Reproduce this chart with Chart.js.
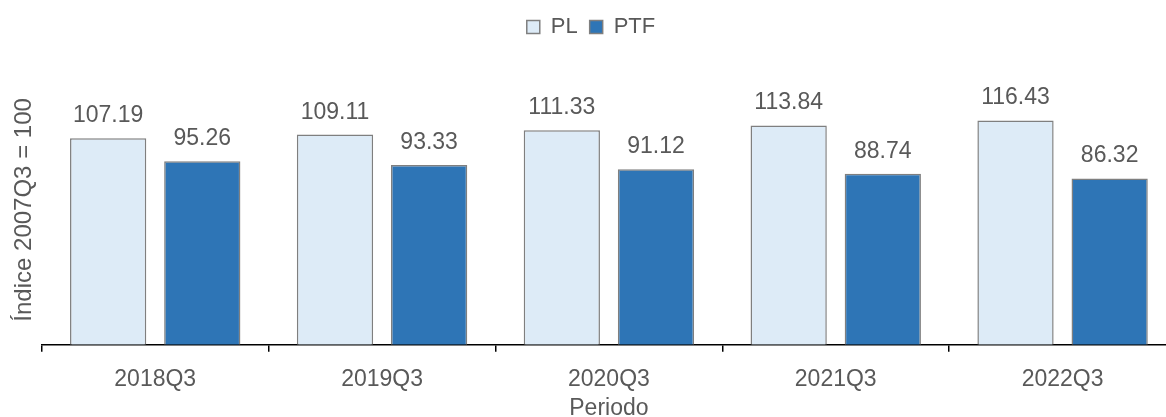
<!DOCTYPE html>
<html>
<head>
<meta charset="utf-8">
<script src="https://cdn.jsdelivr.net/npm/chart.js@4/dist/chart.umd.min.js"></script>
<style>
  html, body { margin: 0; padding: 0; background: #fff; overflow: hidden; }
  #wrap { width: 1180px; height: 422px; }
</style>
</head>
<body>
<div id="wrap"><canvas id="chart"></canvas></div>
<script>
// dati
var periodi = ['2018Q3', '2019Q3', '2020Q3', '2021Q3', '2022Q3'];
var valoriPL = [107.19, 109.11, 111.33, 113.84, 116.43];
var valoriPTF = [95.26, 93.33, 91.12, 88.74, 86.32];

var testo = '#595959';
var fontName = '"Liberation Sans", Arial, sans-serif';

// spazio extra sotto la legenda
var legendGap = {
    id: 'legendGap',
    beforeInit: function (chart) {
        var fit = chart.legend.fit;
        chart.legend.fit = function () {
            fit.bind(chart.legend)();
            this.height += 27;
        };
    }
};

// etichette sopra le barre
var barLabels = {
    id: 'barLabels',
    afterDatasetsDraw: function (chart) {
        var ctx = chart.ctx;
        ctx.save();
        ctx.font = '23px ' + fontName;
        ctx.fillStyle = testo;
        ctx.textAlign = 'center';
        ctx.textBaseline = 'alphabetic';
        chart.data.datasets.forEach(function (ds, i) {
            chart.getDatasetMeta(i).data.forEach(function (bar, j) {
                ctx.fillText(ds.data[j].toFixed(2), bar.x, bar.y - 16);
            });
        });
        ctx.restore();
    }
};

var ctx = document.getElementById('chart').getContext('2d');
window.indiceChart = new Chart(ctx, {
    type: 'bar',
    data: {
        labels: periodi,
        datasets: [{
            label: 'PL',
            data: valoriPL,
            backgroundColor: '#DDEBF7',
            borderColor: '#7F7F7F',
            borderWidth: 1.5,
        }, {
            label: 'PTF',
            data: valoriPTF,
            backgroundColor: '#2E75B6',
            borderColor: '#7F7F7F',
            borderWidth: 1.5,
        }]
    },
    options: {
        responsive: true,
        maintainAspectRatio: false,
        animation: false,
        datasets: {
            bar: { categoryPercentage: 0.83, barPercentage: 0.81 }
        },
        layout: { padding: { left: 6, right: 4, top: 4, bottom: 0 } },
        plugins: {
            legend: {
                position: 'top',
                labels: {
                    color: testo,
                    font: { family: fontName, size: 22 },
                    boxWidth: 13,
                    boxHeight: 13,
                    padding: 12
                }
            },
            tooltip: { enabled: false }
        },
        scales: {
            x: {
                border: { display: true, color: '#000', width: 1.5 },
                grid: {
                    display: true,
                    drawOnChartArea: false,
                    drawTicks: true,
                    tickLength: 7,
                    color: '#000',
                    lineWidth: 1.5
                },
                ticks: {
                    color: testo,
                    font: { family: fontName, size: 23 },
                    padding: 14
                },
                title: {
                    display: true,
                    text: 'Periodo',
                    color: testo,
                    font: { family: fontName, size: 23 },
                    padding: { top: -13, bottom: 0 }
                }
            },
            y: {
                min: 0,
                max: 140,
                border: { display: false },
                grid: { display: false, drawTicks: false },
                ticks: { display: false },
                title: {
                    display: true,
                    text: 'Índice 2007Q3 = 100',
                    color: testo,
                    font: { family: fontName, size: 24 },
                    padding: { top: 4, bottom: 3 }
                }
            }
        }
    },
    plugins: [legendGap, barLabels]
});
</script>
</body>
</html>
